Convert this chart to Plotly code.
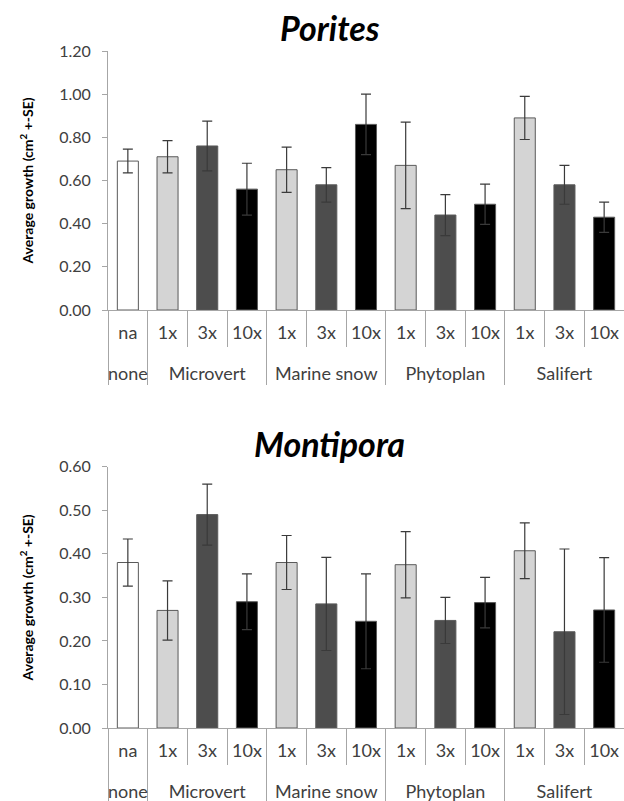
import plotly.graph_objects as go

groups = ["none", "Microvert", "Microvert", "Microvert",
          "Marine snow", "Marine snow", "Marine snow",
          "Phytoplan", "Phytoplan", "Phytoplan",
          "Salifert", "Salifert", "Salifert"]
doses = ["na", "1x", "3x", "10x", "1x", "3x", "10x", "1x", "3x", "10x", "1x", "3x", "10x"]

porites_mean = [0.69, 0.71, 0.76, 0.56, 0.65, 0.58, 0.86, 0.67, 0.44, 0.49, 0.89, 0.58, 0.43]
porites_se = [0.055, 0.075, 0.115, 0.12, 0.105, 0.08, 0.14, 0.20, 0.095, 0.093, 0.10, 0.09, 0.07]

montipora_mean = [0.38, 0.27, 0.49, 0.29, 0.38, 0.285, 0.245, 0.375, 0.247, 0.288, 0.407, 0.221, 0.271]
montipora_se = [0.054, 0.068, 0.07, 0.064, 0.062, 0.107, 0.109, 0.076, 0.053, 0.058, 0.064, 0.19, 0.12]

dose_colors = {"na": "#ffffff", "1x": "#d4d4d4", "3x": "#4d4d4d", "10x": "#000000"}
bar_colors = [dose_colors[d] for d in doses]
group_labels = ["<br>" + g for g in groups]  # second label row sits one line lower

FONT = "Lato"
AXIS_GREY = "#a6a6a6"
TEXT_GREY = "#404040"

fig = go.Figure()
for i, (mean, se) in enumerate([(porites_mean, porites_se), (montipora_mean, montipora_se)]):
    suffix = "" if i == 0 else str(i + 1)
    fig.add_trace(go.Bar(
        x=[group_labels, doses], y=mean,
        marker=dict(color=bar_colors, line=dict(color="#5a5a5a", width=1)),
        error_y=dict(type="data", array=se, visible=True, color="#3a3a3a", thickness=1.2, width=5),
        xaxis="x" + suffix, yaxis="y" + suffix, showlegend=False,
    ))

xcommon = dict(
    type="multicategory", showline=True, linecolor=AXIS_GREY, linewidth=1,
    ticks="outside", tickson="boundaries", ticklen=36, tickcolor=AXIS_GREY,
    showdividers=True, dividercolor=AXIS_GREY, dividerwidth=1,
    tickfont=dict(family=FONT, size=18, color=TEXT_GREY), ticklabelstandoff=6,
    showgrid=False, automargin=False, domain=[0, 1],
)
ycommon = dict(
    showline=True, linecolor=AXIS_GREY, linewidth=1, ticks="outside", ticklen=5,
    tickcolor=AXIS_GREY, showgrid=False, zeroline=False, tickformat=".2f",
    tickfont=dict(family=FONT, size=16, color=TEXT_GREY), ticklabelstandoff=8,
    automargin=False,
    title=dict(text="Average growth (cm<sup>2</sup> +-SE)", standoff=22,
               font=dict(family=FONT, size=14, color="#000000", weight="bold")),
)

W, H = 624, 801
fig.update_layout(
    width=W, height=H,
    margin=dict(l=108, r=0, t=0, b=0),
    paper_bgcolor="white", plot_bgcolor="white",
    bargap=0.47,
    xaxis=dict(xcommon, anchor="y"),
    yaxis=dict(ycommon, range=[0, 1.2], dtick=0.2, domain=[1 - 310 / H, 1 - 51 / H], anchor="x"),
    xaxis2=dict(xcommon, anchor="y2"),
    yaxis2=dict(ycommon, range=[0, 0.6], dtick=0.1, domain=[1 - 728 / H, 1 - 466.7 / H], anchor="x2"),
    annotations=[
        dict(text="<b><i>Porites</i></b>", xref="paper", yref="paper", x=0.43,
             y=1 - 28 / H, showarrow=False, xanchor="center", yanchor="middle",
             font=dict(family=FONT, size=34, color="#000000")),
        dict(text="<b><i>Montipora</i></b>", xref="paper", yref="paper", x=0.43,
             y=1 - 443 / H, showarrow=False, xanchor="center", yanchor="middle",
             font=dict(family=FONT, size=34, color="#000000")),
    ],
)

fig.write_html("out.html", config={"displayModeBar": False},
               post_script="document.body.style.margin='0';")
